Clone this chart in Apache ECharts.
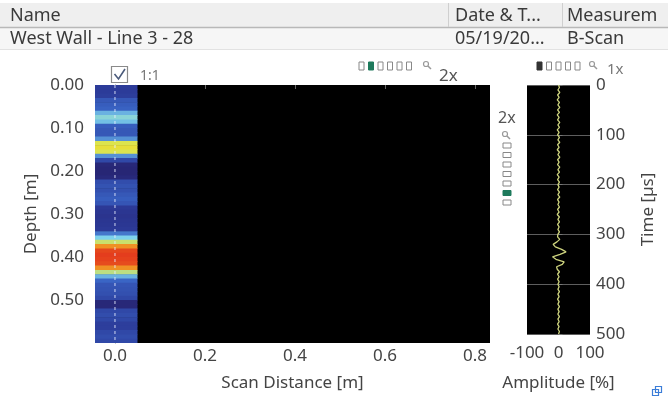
<!DOCTYPE html>
<html>
<head>
<meta charset="utf-8">
<script src="https://cdn.jsdelivr.net/npm/echarts@6/dist/echarts.min.js"></script>
<style>
html,body{margin:0;padding:0;background:#fff;}
#chart{width:668px;height:402px;}
</style>
</head>
<body>
<div id="chart"></div>
<script>
// ---- data ----
const headerCols = ['Name', 'Date & T...', 'Measurem'];
const headerRow = ['West Wall - Line 3 - 28', '05/19/20...', 'B-Scan'];
const scanDistTicks = [0, 0.2, 0.4, 0.6, 0.8];
const depthTicks = [0, 0.1, 0.2, 0.3, 0.4, 0.5];
const depthBinSize = 0.01; // m
const scanColumnX = [-0.05, 0.05]; // single scan column at 0.0 m
// normalised reflection intensity per 0.01 m depth bin (0.00 .. 0.60 m)
const columnValues = [
  0.17, 0.17, 0.18, 0.28, 0.30, 0.32, 0.45, 0.52, 0.47, 0.30,
  0.28, 0.28, 0.40, 0.65, 0.68, 0.65, 0.40, 0.22, 0.05, 0.04,
  0.04, 0.06, 0.24, 0.26, 0.25, 0.28, 0.30, 0.27, 0.16, 0.14,
  0.13, 0.14, 0.15, 0.16, 0.36, 0.50, 0.62, 0.82, 0.96, 0.98,
  0.97, 0.95, 0.82, 0.60, 0.45, 0.33, 0.27, 0.26, 0.25, 0.22,
  0.05, 0.05, 0.22, 0.24, 0.22, 0.18, 0.18, 0.22, 0.24, 0.22
];
const amplitudeTicks = [-100, 0, 100];
const timeTicks = [0, 100, 200, 300, 400, 500];
const timeStep = 5; // µs
// A-scan amplitude [%] every 5 µs from 0 to 500 µs
const ascanAmplitude = [
  0, 3, -2, 4, -3, 2, -4, 3, -2, 4, -3, 3, -4, 2, -3, 4, -2, 3, -4, 2, -3,
  3, -2, 4, -3, 2, -4, 3, -2, 4, -3, 2, -3, 4, -2, 3, -4, 2, -3, 3, -2,
  2, -3, 3, -2, 4, -3, 2, -2, 3, -3, 2, -4, 3, -2, 3, -3, 2, -2, 3, -2,
  -3, 4, -5, -17, -10, 10, 24, 5, -19, -8, 18, 12, -6, -4, 3, -3, 2, -3, 2, -2,
  2, -2, 3, -2, 2, -3, 2, -2, 3, -2, 2, -2, 3, -2, 2, -3, 2, -2, 3, 0
];

// ---- build series data ----
const columnData = columnValues.map((v, i) => [scanColumnX[0], scanColumnX[1], i * depthBinSize, (i + 1) * depthBinSize, v]);
const ascanData = ascanAmplitude.map((a, i) => [a, i * timeStep]);

const FONT = 'Noto Sans';
const TXT = '#444';

const chart = echarts.init(document.getElementById('chart'), null, {renderer: 'canvas'});

function iconRects(x0, y0, n, dx, dy, w, h, filled) {
  const els = [];
  for (let i = 0; i < n; i++) {
    const f = filled[i];
    els.push({type: 'rect', shape: {x: x0 + i * dx, y: y0 + i * dy, width: w, height: h},
      style: {fill: f || '#fff', stroke: f ? f : '#888', lineWidth: 1}, silent: true});
  }
  return els;
}
function magnifier(cx, cy) {
  return [
    {type: 'circle', shape: {cx: cx, cy: cy, r: 2.5}, style: {fill: 'none', stroke: '#999', lineWidth: 1.2}},
    {type: 'line', shape: {x1: cx + 2, y1: cy + 2, x2: cx + 5, y2: cy + 5}, style: {stroke: '#999', lineWidth: 1.5}}
  ];
}

const HF = '18px ' + FONT;
const graphics = [
  // header table
  {type: 'rect', shape: {x: 0, y: 3, width: 668, height: 24}, style: {fill: '#efefef'}},
  {type: 'rect', shape: {x: 0, y: 28, width: 668, height: 21}, style: {fill: '#f6f6f6'}},
  {type: 'line', shape: {x1: 0, y1: 27.5, x2: 668, y2: 27.5}, style: {stroke: '#b8b8b8', lineWidth: 1.5}},
  {type: 'line', shape: {x1: 0, y1: 49.5, x2: 668, y2: 49.5}, style: {stroke: '#e2e2e2', lineWidth: 1}},
  {type: 'line', shape: {x1: 448.5, y1: 3, x2: 448.5, y2: 27}, style: {stroke: '#cfcfcf', lineWidth: 1}},
  {type: 'line', shape: {x1: 562.5, y1: 3, x2: 562.5, y2: 27}, style: {stroke: '#cfcfcf', lineWidth: 1}},
  {type: 'text', x: 10, y: 16, style: {text: headerCols[0], font: HF, fill: '#3a3a3a', verticalAlign: 'middle'}},
  {type: 'text', x: 455, y: 16, style: {text: headerCols[1], font: HF, fill: '#3a3a3a', verticalAlign: 'middle'}},
  {type: 'text', x: 567, y: 16, style: {text: headerCols[2], font: HF, fill: '#3a3a3a', verticalAlign: 'middle'}},
  {type: 'text', x: 10, y: 39, style: {text: headerRow[0], font: HF, fill: '#3a3a3a', verticalAlign: 'middle'}},
  {type: 'text', x: 455, y: 39, style: {text: headerRow[1], font: HF, fill: '#3a3a3a', verticalAlign: 'middle'}},
  {type: 'text', x: 567, y: 39, style: {text: headerRow[2], font: HF, fill: '#3a3a3a', verticalAlign: 'middle'}},
  // checkbox + 1:1
  {type: 'rect', shape: {x: 111.5, y: 66.5, width: 16, height: 16}, style: {fill: 'rgba(255,255,255,0.2)', stroke: '#8a8a8a', lineWidth: 1.2}, z: 100},
  {type: 'polyline', shape: {points: [[114.5, 74], [118.5, 79], [125, 69]]}, style: {stroke: '#4a5a7a', lineWidth: 1.6, fill: 'none'}, z: 101},
  {type: 'text', x: 140, y: 76, style: {text: '1:1', font: '14px ' + FONT, fill: '#777', verticalAlign: 'middle'}, z: 100},
  // zoom strips
  ...iconRects(359, 62, 6, 9.5, 0, 5, 8, [null, '#1e7a5c', null, null, null, null]),
  ...magnifier(426, 64),
  {type: 'text', x: 439, y: 76, style: {text: '2x', font: '17px ' + FONT, fill: '#555', verticalAlign: 'middle'}},
  ...iconRects(537, 62, 5, 9.5, 0, 5, 8, ['#333', null, null, null, null]),
  ...magnifier(592, 64),
  {type: 'text', x: 607, y: 70, style: {text: '1x', font: '15px ' + FONT, fill: '#777', verticalAlign: 'middle'}, z: 100},
  {type: 'text', x: 498, y: 118, style: {text: '2x', font: '16px ' + FONT, fill: '#555', verticalAlign: 'middle'}},
  ...magnifier(505, 134),
  ...iconRects(503, 143, 7, 0, 9.5, 8, 5, [null, null, null, null, null, '#1e7a5c', null]),
  // bottom-right icon
  {type: 'rect', shape: {x: 652.5, y: 389.5, width: 6, height: 6}, style: {fill: 'none', stroke: '#3b7dd8', lineWidth: 1.2}},
  {type: 'rect', shape: {x: 655.5, y: 386.5, width: 6, height: 6}, style: {fill: 'none', stroke: '#3b7dd8', lineWidth: 1.2}}
];

const axisLabelStyle = {color: TXT, fontSize: 17, fontFamily: FONT};
const nameStyle = {color: TXT, fontSize: 17, fontFamily: FONT};

const option = {
  animation: false,
  backgroundColor: '#fff',
  grid: [
    {left: 95, top: 85, width: 395, height: 258, show: true, backgroundColor: '#000', borderColor: '#999', borderWidth: 0},
    {left: 527, top: 85, width: 63, height: 249, show: true, backgroundColor: '#000', borderColor: '#999', borderWidth: 0}
  ],
  xAxis: [
    {
      type: 'value', gridIndex: 0, min: -0.0444, max: 0.8333,
      name: 'Scan Distance [m]', nameLocation: 'middle', nameGap: 32, nameTextStyle: nameStyle,
      axisLine: {show: false},
      axisTick: {show: true, length: 4, lineStyle: {color: '#666'}, customValues: scanDistTicks},
      axisLabel: Object.assign({margin: 5, formatter: v => v.toFixed(1), customValues: scanDistTicks}, axisLabelStyle),
      splitLine: {show: false}
    },
    {
      type: 'value', gridIndex: 1, min: -100, max: 100, interval: 100,
      name: 'Amplitude [%]', nameLocation: 'middle', nameGap: 41, nameTextStyle: nameStyle,
      axisLine: {show: false},
      axisTick: {show: false},
      axisLabel: Object.assign({margin: 11, showMinLabel: true, showMaxLabel: true, hideOverlap: false, customValues: amplitudeTicks}, axisLabelStyle),
      splitLine: {show: false}
    }
  ],
  yAxis: [
    {
      type: 'value', gridIndex: 0, min: 0, max: 0.6, inverse: true,
      name: 'Depth [m]', nameLocation: 'middle', nameGap: 47, nameRotate: 90, nameTextStyle: nameStyle,
      axisLine: {show: true, lineStyle: {color: '#777'}},
      axisTick: {show: true, length: 5, lineStyle: {color: '#666'}, customValues: depthTicks},
      axisLabel: Object.assign({margin: 11, formatter: v => v.toFixed(2), customValues: depthTicks}, axisLabelStyle),
      splitLine: {show: false}
    },
    {
      type: 'value', gridIndex: 1, min: 0, max: 500, interval: 100, inverse: true, position: 'right',
      name: 'Time [µs]', nameLocation: 'middle', nameGap: 50, nameRotate: 90, nameTextStyle: nameStyle,
      axisLine: {show: false},
      axisTick: {show: true, length: 4, lineStyle: {color: '#777'}},
      axisLabel: Object.assign({margin: 6, customValues: timeTicks}, axisLabelStyle),
      splitLine: {show: true, lineStyle: {color: '#5e5e5e', width: 1}}
    }
  ],
  visualMap: {
    type: 'continuous', show: false, min: 0, max: 1, dimension: 4, seriesIndex: 0,
    inRange: {color: ['#26206a', '#2c3a98', '#3a66c6', '#7ed2ec', '#e6e63c', '#f08a22', '#e2321c']}
  },
  series: [
    {
      type: 'custom', xAxisIndex: 0, yAxisIndex: 0, clip: true,
      data: columnData,
      encode: {x: [0, 1], y: [2, 3]},
      renderItem: function (params, api) {
        const p1 = api.coord([api.value(0), api.value(2)]);
        const p2 = api.coord([api.value(1), api.value(3)]);
        return {
          type: 'rect',
          shape: {x: p1[0], y: p1[1], width: p2[0] - p1[0], height: p2[1] - p1[1] + 0.6},
          style: {fill: api.visual('color')}
        };
      }
    },
    {
      type: 'line', xAxisIndex: 0, yAxisIndex: 0, showSymbol: false, silent: true,
      data: [[0, 0], [0, 0.6]],
      lineStyle: {color: 'rgba(235,240,255,0.85)', width: 1, type: [3, 3]}, z: 5
    },
    {
      type: 'line', xAxisIndex: 1, yAxisIndex: 1, showSymbol: false, silent: true,
      data: ascanData,
      lineStyle: {color: '#cdd37e', width: 1.3}, z: 5
    }
  ],
  graphic: graphics
};
chart.setOption(option);
</script>
</body>
</html>
